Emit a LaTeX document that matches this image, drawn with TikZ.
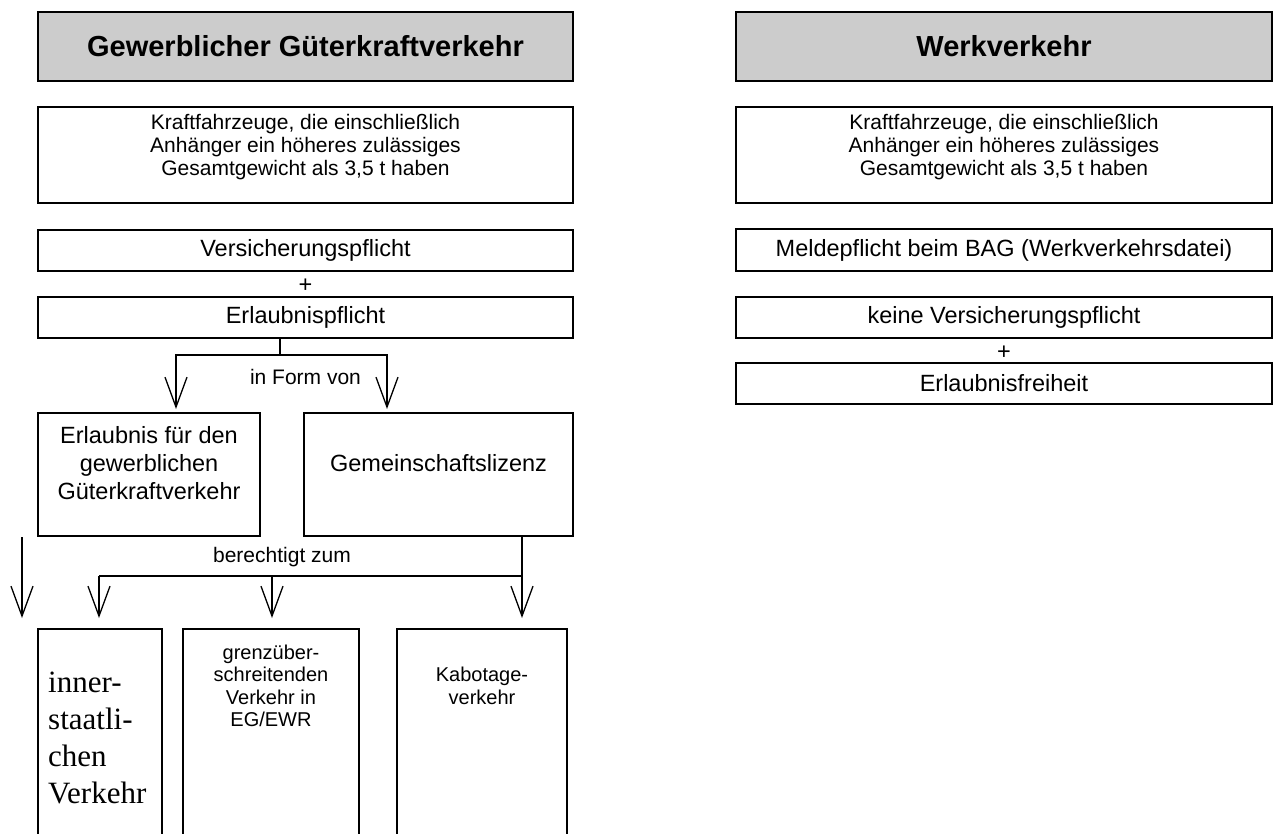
\documentclass[tikz,border=0pt]{standalone}
\usepackage{fontspec}
\setmainfont{Liberation Sans}
\newfontfamily\serifTimes{Liberation Serif}
\usetikzlibrary{arrows.meta}
\definecolor{headgray}{HTML}{CCCCCC}
\begin{document}
\begin{tikzpicture}[x=1pt,y=-1pt,
  box/.style={draw, line width=1.8pt, rectangle, inner sep=0pt, outer sep=0pt},
  head/.style={box, fill=headgray, font=\fontsize{29}{33}\selectfont\bfseries},
  txt/.style={font=\fontsize{23.5}{28}\selectfont, inner sep=0pt, align=center},
  small/.style={font=\fontsize{21}{23}\selectfont, inner sep=0pt, align=center},
  lbl/.style={font=\fontsize{21}{24}\selectfont, inner sep=0pt},
  tiny/.style={font=\fontsize{20}{22.5}\selectfont, inner sep=0pt, align=center},
  conn/.style={line width=1.3pt},
  arr/.style={conn, -{Straight Barb[length=30pt,width=22pt]}}
]
\clip (0,0) rectangle (1277,833);

% ---------- left column ----------
\node[head, minimum width=535pt, minimum height=69pt] (hL) at (305.5,46.5) {Gewerblicher Güterkraftverkehr};
\node[box, minimum width=535pt, minimum height=96pt] (kL) at (305.5,155) {};
\node[small] (kLt) at (305.5,147) {Kraftfahrzeuge, die einschließlich\\Anhänger ein höheres zulässiges\\Gesamtgewicht als 3,5 t haben};
\node[box, txt, minimum width=535pt, minimum height=41pt] (vp) at (305.5,250.5) {Versicherungspflicht};
\node[txt] (p1) at (305.5,286) {+};
\node[box, txt, minimum width=535pt, minimum height=41pt] (ep) at (305.5,317.5) {Erlaubnispflicht};

\node[box, minimum width=222pt, minimum height=123pt] (eb) at (149,474.5) {};
\node[txt] (ebt) at (149,463) {Erlaubnis für den\\gewerblichen\\Güterkraftverkehr};
\node[box, minimum width=269pt, minimum height=123pt] (gz) at (438.5,474.5) {};
\node[txt] (gzt) at (438.5,463) {Gemeinschaftslizenz};

\node[box, minimum width=124pt, minimum height=231pt] (b1) at (100,744.5) {};
\node[anchor=west, align=left, inner sep=0pt, font=\serifTimes\fontsize{31}{37}\selectfont] (b1t) at (48,738) {inner-\\staatli-\\chen\\Verkehr};
\node[box, minimum width=176pt, minimum height=231pt] (b2) at (271,744.5) {};
\node[tiny] (b2t) at (271,686) {grenzüber-\\schreitenden\\Verkehr in\\EG/EWR};
\node[box, minimum width=170pt, minimum height=231pt] (b3) at (482,744.5) {};
\node[tiny] (b3t) at (482,686) {Kabotage-\\verkehr};

% connectors
\coordinate (f1) at (280,355);
\coordinate (fL) at (176,355);
\coordinate (fR) at (387,355);
\draw[conn] (ep.south -| f1) -- (f1);
\draw[arr, shorten >=4pt] (f1) -- (fL) -- (fL |- eb.north);
\draw[arr, shorten >=4pt] (f1) -- (fR) -- (fR |- gz.north);
\node[lbl] (l1) at (305.5,377) {in Form von};

\coordinate (g1) at (522,576);
\coordinate (gA) at (99,576);
\coordinate (gB) at (272,576);
\draw[conn] (gz.south -| g1) -- (g1) -- (gA);
\draw[arr, shorten >=11pt] (gA) -- (gA |- b1.north);
\draw[arr, shorten >=11pt] (gB) -- (gB |- b2.north);
\draw[arr, shorten >=11pt] (g1) -- (g1 |- b3.north);
\node[lbl] (l2) at (282,557) {berechtigt zum};

\coordinate (s0) at (22,537);
\coordinate (s1) at (22,618);
\draw[arr] (s0) -- (s1);

% ---------- right column ----------
\node[head, minimum width=536pt, minimum height=69pt] (hR) at (1004,46.5) {Werkverkehr};
\node[box, minimum width=536pt, minimum height=96pt] (kR) at (1004,155) {};
\node[small] (kRt) at (1004,147) {Kraftfahrzeuge, die einschließlich\\Anhänger ein höheres zulässiges\\Gesamtgewicht als 3,5 t haben};
\node[box, txt, minimum width=536pt, minimum height=42pt] (mp) at (1004,250) {Meldepflicht beim BAG (Werkverkehrsdatei)};
\node[box, txt, minimum width=536pt, minimum height=41pt] (kv) at (1004,317.5) {keine Versicherungspflicht};
\node[txt] (p2) at (1004,353) {+};
\node[box, txt, minimum width=536pt, minimum height=41pt] (ef) at (1004,383.5) {Erlaubnisfreiheit};
\end{tikzpicture}
\end{document}
